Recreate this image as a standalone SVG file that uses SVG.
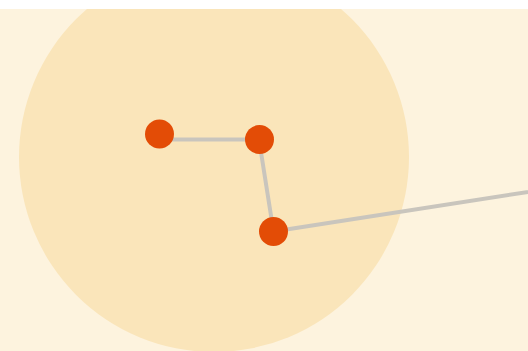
<svg xmlns="http://www.w3.org/2000/svg" width="528" height="351" viewBox="0 0 528 351">
  <style>
    .edge { stroke: #c9c5bd; stroke-width: 4; fill: none; stroke-linecap: round; }
    .dot { fill: #e34c06; }
  </style>
  <defs>
    <clipPath id="area"><rect x="0" y="9" width="528" height="342"/></clipPath>
  </defs>
  <rect x="0" y="0" width="528" height="351" fill="#ffffff"/>
  <g id="background" clip-path="url(#area)">
    <rect x="0" y="9" width="528" height="342" fill="#fdf3de"/>
    <circle cx="214" cy="157" r="195" fill="#fae5ba"/>
  </g>
  <g id="connectors">
    <line class="edge" x1="162" y1="139.5" x2="259" y2="139.5"/>
    <line class="edge" x1="259" y1="139.5" x2="273.5" y2="231.5"/>
    <line class="edge" x1="273.5" y1="231.5" x2="560" y2="187"/>
  </g>
  <g id="node1"><circle class="dot" cx="159.5" cy="134" r="14.5"/></g>
  <g id="node2"><circle class="dot" cx="259.5" cy="139.5" r="14.5"/></g>
  <g id="node3"><circle class="dot" cx="273.5" cy="231.5" r="14.5"/></g>
</svg>
